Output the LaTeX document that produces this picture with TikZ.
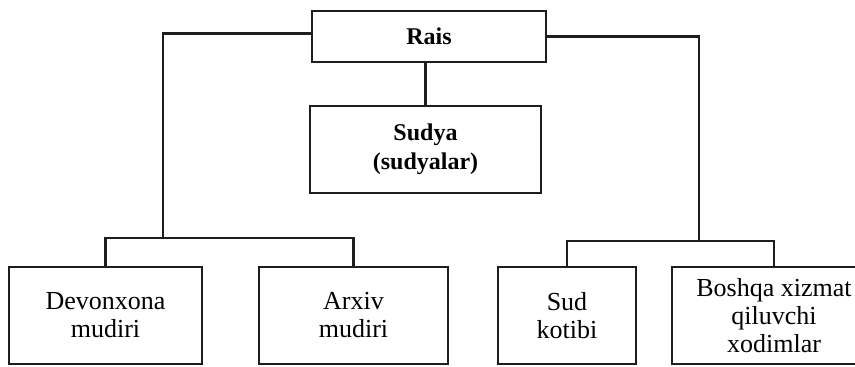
\documentclass[tikz,border=0pt]{standalone}
\usepackage{fontspec}
\setmainfont{Liberation Serif}
\usetikzlibrary{positioning}
\definecolor{ChartInk}{HTML}{1E1E1E}
\colorlet{ChartPaper}{white}
\tikzset{
  chief/.style={draw=ChartInk, line width=1.1pt, inner sep=0pt, align=center,
    font=\fontsize{12}{14.5}\selectfont\bfseries},
  staff/.style={draw=ChartInk, line width=1.1pt, inner sep=0pt, align=center,
    font=\fontsize{13}{14}\selectfont},
  link/.style={ChartInk, line width=1.1pt}
}

\begin{document}
\begin{tikzpicture}[x=0.5pt, y=-0.5pt]

    % Frame
    \fill[ChartPaper] (0,0) rectangle (855,366);
    \clip (0,0) rectangle (855,366);

    % Top boxes
    \node[chief, minimum width=117pt, minimum height=25.5pt] (rais) at (429,36.5) {Rais};
    \node[chief, minimum width=115.5pt, minimum height=43.5pt] (sudya) at (425.5,149.5) {Sudya\\(sudyalar)};

    % Staff boxes
    \node[staff, minimum width=96.5pt, minimum height=48.5pt] (devon) at (105.5,315.5) {Devonxona\\mudiri};
    \node[staff, minimum width=94.5pt, minimum height=48.5pt] (arxiv) at (353.5,315.5) {Arxiv\\mudiri};
    \node[staff, minimum width=69pt, minimum height=48.5pt] (sud) at (567,315.5) {Sud\\kotibi};
    \node[staff, minimum width=102pt, minimum height=48.5pt] (boshqa) at (774,315.5) {Boshqa xizmat\\qiluvchi\\xodimlar};

    % Joints
    \coordinate (leftjoin) at (163,238);
    \coordinate (rightjoin) at (699,241);

    % Lines
    \draw[link] ([yshift=1.5pt]rais.west) -| (leftjoin);
    \draw[link] (rais.east) -| (rightjoin);
    \draw[link] (sudya.north |- rais.south) -- (sudya.north);
    \draw[link] (devon.north) |- (arxiv.north |- leftjoin) -- (arxiv.north);
    \draw[link] (sud.north) |- (boshqa.north |- rightjoin) -- (boshqa.north);

\end{tikzpicture}
\end{document}
